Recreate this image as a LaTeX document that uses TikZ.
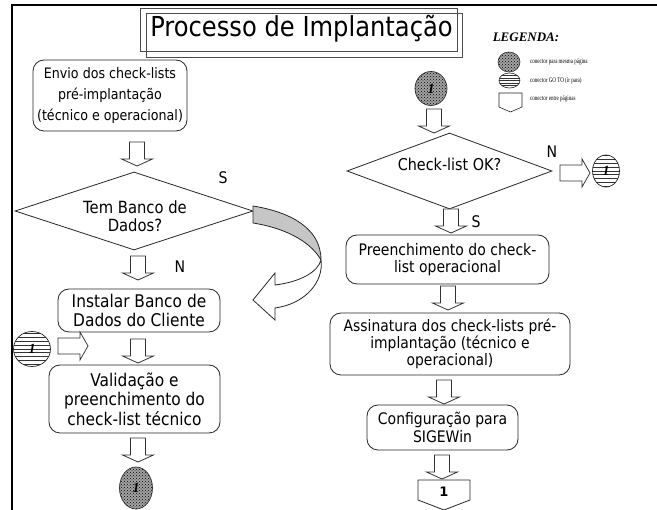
\documentclass[tikz,border=0pt]{standalone}
\usepackage{fontspec}
\setmainfont{DejaVu Sans}[FakeStretch=0.88]
\newfontfamily\legfont{Liberation Serif}[FakeStretch=0.72]
\newfontfamily\legtitfont{Liberation Serif}
\newfontfamily\numfont{Liberation Serif}
\newfontfamily\pgnum{DejaVu Sans}
\usetikzlibrary{shapes.geometric,patterns,calc}
\tikzset{
  box/.style={draw=black!85, line width=0.8pt, rounded corners=11pt, inner sep=0pt},
  txt/.style={align=center, inner sep=0pt},
  blk/.style={draw=black!80, line width=0.8pt, fill=white, line join=miter},
  dotc/.style={ellipse, draw=black!80, line width=0.7pt, inner sep=0pt,
     preaction={fill=gray!72}, pattern=crosshatch dots, pattern color=black,
     font=\numfont\bfseries\itshape\fontsize{14}{14}\selectfont},
  stripc/.style={ellipse, draw=black!85, line width=0.7pt, inner sep=0pt, fill=white,
     font=\numfont\bfseries\itshape\fontsize{14}{14}\selectfont,
     path picture={\foreach \k in {-6,...,6}
        \draw[line width=0.6pt,black!80] ([yshift=\k*3.8pt]path picture bounding box.west) -- ([yshift=\k*3.8pt]path picture bounding box.east);}},
  lstripc/.style={ellipse, draw=black!85, line width=0.6pt, inner sep=0pt, fill=white,
     path picture={\foreach \k in {-3,...,3}
        \draw[line width=0.5pt,black!80] ([yshift=\k*2.6pt]path picture bounding box.west) -- ([yshift=\k*2.6pt]path picture bounding box.east);}},
  lbl/.style={inner sep=0pt, font=\fontsize{16}{16}\selectfont},
  legtxt/.style={anchor=west, inner sep=0pt, font=\legfont\fontsize{7}{7.5}\selectfont},
  pics/dnarrow/.style={code={\draw[blk] (-7.5,0) -- (7.5,0) -- (7.5,17) -- (15.5,17) -- (0,24) -- (-15.5,17) -- (-7.5,17) -- cycle;}},
  pics/rtarrow/.style={code={\draw[blk] (0,-8) -- (22,-8) -- (22,-14) -- (30,0) -- (22,14) -- (22,8) -- (0,8) -- cycle;}},
}
\begin{document}
\begin{tikzpicture}[x=1pt,y=-1pt]
\useasboundingbox (0,0) rectangle (657,510);
% frame
\draw[line width=1.2pt] (12,510) -- (12,5) -- (657,5);
% title
\draw[black!70, line width=0.8pt] (140,8) rectangle (457,51);
\draw[black!70, line width=0.8pt] (146,13) rectangle (462,57);
\node[txt, font=\fontsize{27.5}{30}\selectfont] (title) at (301.5,29) {Processo de Implantação};
% legend
\node[txt, font=\legtitfont\bfseries\itshape\fontsize{13}{15}\selectfont] (leg) at (526,37) {LEGENDA:};
\node[ellipse, draw=black!80, line width=0.6pt, inner sep=0pt, minimum width=22, minimum height=20,
   preaction={fill=gray!72}, pattern=crosshatch dots, pattern color=black] (lc1) at (509,62) {};
\node[legtxt] (lt1) at (530,62) {conector para mesma página};
\node[lstripc, minimum width=21, minimum height=15] (lc2) at (509.5,80.5) {};
\node[legtxt] (lt2) at (530,81) {conector GO TO (ir para)};
\draw[black!85, line width=0.6pt] (499,93) -- (522,93) -- (522,107) -- (510.5,112) -- (499,107) -- cycle;
\coordinate (lc3) at (510.5,100);
\node[legtxt] (lt3) at (530,99) {conector entre páginas};

% ---------- left column ----------
\node[box, minimum width=154, minimum height=71] (b1) at (110,95.5) {};
\node[txt, font=\fontsize{14.4}{21}\selectfont] (b1t) at (b1) {Envio dos check-lists\\pré-implantação\\(técnico e operacional)};
\pic at (137,142) {dnarrow};
\node[diamond, draw=black!85, line width=0.8pt, minimum width=238, minimum height=78, inner sep=0pt] (d1) at (134,211) {};
\node[txt, font=\fontsize{16.8}{18}\selectfont] (d1t) at (135,216) {Tem Banco de\\Dados?};
\node[lbl] (s1) at (223,178) {S};
\pic at (138,256) {dnarrow};
\node[lbl] (n1) at (180,267) {N};
\node[box, minimum width=162, minimum height=43] (b2) at (139,310.5) {};
\node[txt, font=\fontsize{17.5}{18.5}\selectfont] (b2t) at (b2) {Instalar Banco de\\Dados do Cliente};
\node[stripc, minimum width=37, minimum height=35] (c1) at (32,349) {1};
\pic at (58,346) {rtarrow};
\pic at (138,339) {dnarrow};
\node[box, minimum width=171, minimum height=68] (b3) at (134.5,399) {};
\node[txt, font=\fontsize{17.5}{19.5}\selectfont] (b3t) at (b3) {Validação e\\preenchimento do\\check-list técnico};
\pic at (138,438) {dnarrow};
\node[dotc, minimum width=33, minimum height=42] (c2) at (136,488) {1};

% curved arrow (S branch)
\draw[black!85, line width=0.8pt, fill=gray!45]
  (253,206) .. controls (290,212) and (321,228) .. (321,260)
  .. controls (312,244) and (290,229) .. (253,223) -- cycle;
\draw[black!85, line width=0.8pt, fill=white, line join=miter]
  (321,260) .. controls (324,282) and (305,304) .. (275,308)
  -- (275,320) -- (253,300) -- (275,273) -- (275,285)
  .. controls (300,282) and (318,272) .. (321,260);

% ---------- right column ----------
\node[dotc, minimum width=32, minimum height=34] (c3) at (431,88.5) {1};
\pic at (434,109) {dnarrow};
\node[diamond, draw=black!85, line width=0.8pt, minimum width=205, minimum height=76, inner sep=0pt] (d2) at (449.5,171) {};
\node[txt, font=\fontsize{16.3}{18}\selectfont] (d2t) at (449.5,164) {Check-list OK?};
\node[lbl] (n2) at (552,152) {N};
\pic at (560,173) {rtarrow};
\node[stripc, minimum width=27, minimum height=32] (c4) at (606,171) {1};
\pic at (451,209) {dnarrow};
\node[lbl] (s2) at (476,222) {S};
\node[box, minimum width=203, minimum height=49] (b4) at (447.5,259.5) {};
\node[txt, font=\fontsize{15.9}{17.5}\selectfont] (b4t) at (b4) {Preenchimento do check-\\list operacional};
\pic at (448,286) {dnarrow};
\node[box, minimum width=240, minimum height=62] (b5) at (450,344) {};
\node[txt, font=\fontsize{15.8}{17}\selectfont] (b5t) at (b5) {Assinatura dos check-lists pré-\\implantação (técnico e\\operacional)};
\pic at (444,380) {dnarrow};
\node[box, minimum width=151, minimum height=45] (b6) at (442.5,427.5) {};
\node[txt, font=\fontsize{15.9}{18}\selectfont] (b6t) at (b6) {Configuração para\\SIGEWin};
\pic at (442,455) {dnarrow};
\draw[black!85, line width=0.8pt, fill=white] (418,480) -- (470,480) -- (470,500) -- (444,510) -- (418,500) -- cycle;
\node[txt, font=\pgnum\bfseries\fontsize{13}{13}\selectfont] (p1) at (444,492) {1};
\end{tikzpicture}
\end{document}
